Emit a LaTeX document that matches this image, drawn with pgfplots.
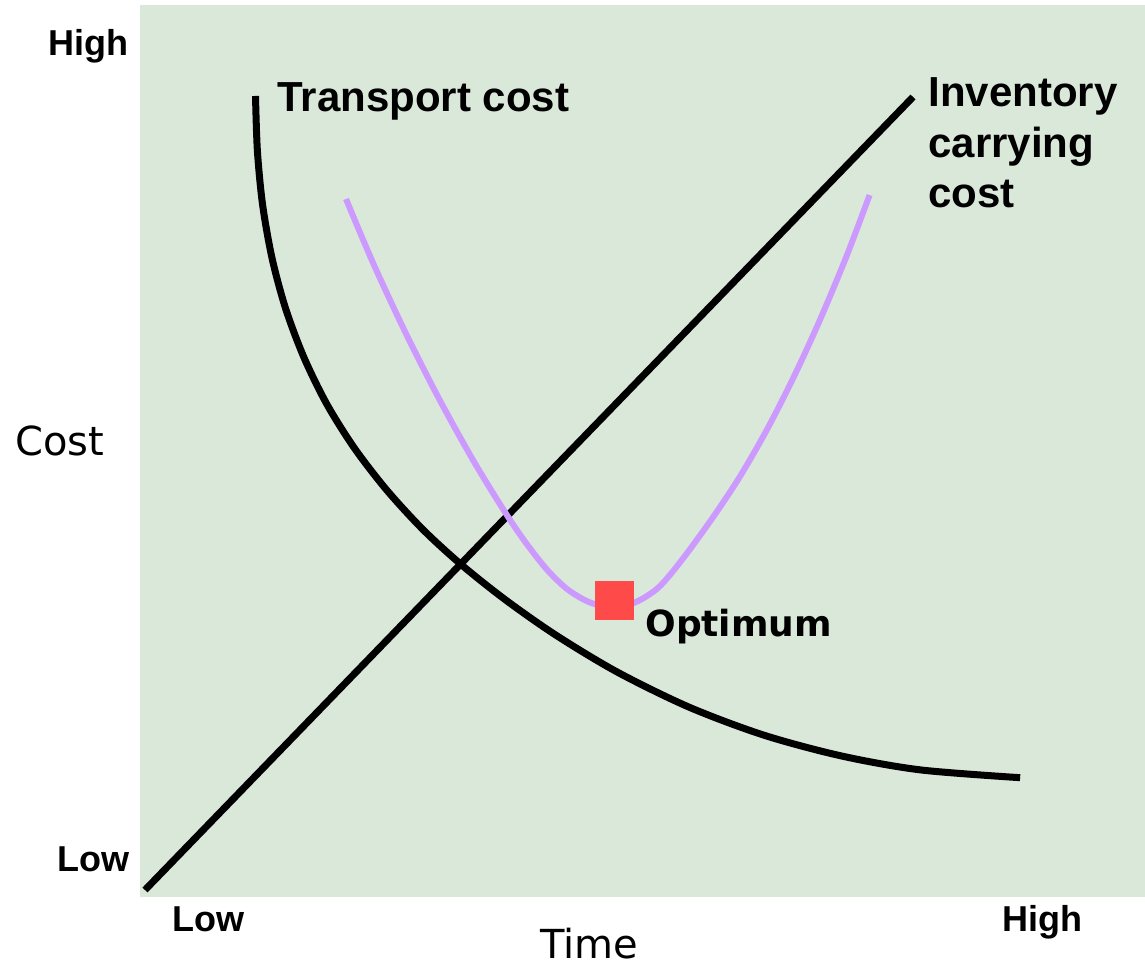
\documentclass[border=0pt]{standalone}
\usepackage{pgfplots}
\pgfplotsset{compat=1.18}
\usepackage{fontspec}
\setmainfont{Liberation Sans}
\newfontfamily\dv{DejaVu Sans}
\definecolor{bggreen}{RGB}{218,232,218}
\definecolor{lilac}{RGB}{204,153,255}
\definecolor{optred}{RGB}{255,74,74}
\begin{document}
\begin{tikzpicture}
\useasboundingbox (0,0) rectangle (572.5pt,483.5pt);
\begin{axis}[
  at={(70pt,35pt)}, anchor=south west,
  scale only axis, width=502.5pt, height=446pt,
  xmin=0, xmax=1005, ymin=0, ymax=892,
  axis line style={draw=none},
  xtick=\empty, ytick=\empty,
  axis background/.style={fill=bggreen},
  clip=false,
]
% Inventory carrying cost
\addplot[black, line width=3.5pt, no markers] coordinates {(5,7) (773,800)};
% Transport cost
\addplot[black, line width=3.5pt, no markers, smooth, line join=round] coordinates {
(115.5,801) (117.4,746) (122.6,692.2) (132,639) (145.5,588.8) (163.7,540.1)
(186.5,493.4) (214.1,449.3) (246.4,407.3) (282.9,367.5) (321.2,332.4)
(365,297.5) (415.8,261.9) (477.5,224.8) (549.4,189.7) (624.3,161.7)
(701.6,141) (780.4,127.1) (880.1,119.3)};
% Total cost
\addplot[lilac, line width=3pt, no markers, smooth, line join=round] coordinates {
(206,698) (233.7,632.6) (267.1,561) (299.8,496.8) (332.3,438.2) (359.3,393.8)
(381.4,360.4) (405.1,329.5) (427,308) (450,294.5) (473,290) (496,295) (519,310)
(543,338.5) (573.1,379.9) (599.6,419.9) (626.6,466.7) (653.4,519.3)
(679.7,576.5) (706.3,640.2) (729.6,701.9)};
% Optimum
\addplot[optred, only marks, mark=square*, mark size=9.5pt, mark options={fill=optred, draw=optred, line width=0pt}] coordinates {(474,296)};

\node[anchor=base east, inner sep=0pt, font=\fontsize{18}{20}\selectfont\bfseries] at (axis cs:-11,841) {High};
\node[anchor=base east, inner sep=0pt, font=\fontsize{18}{20}\selectfont\bfseries] at (axis cs:-10,25) {Low};
\node[anchor=base west, inner sep=0pt, font=\fontsize{18}{20}\selectfont\bfseries] at (axis cs:32,-35) {Low};
\node[anchor=base west, inner sep=0pt, font=\fontsize{18}{20}\selectfont\bfseries] at (axis cs:862,-35) {High};
\node[anchor=base west, inner sep=0pt, font=\dv\fontsize{20}{22}\selectfont] at (axis cs:-125,441) {Cost};
\node[anchor=base west, inner sep=0pt, font=\dv\fontsize{20}{22}\selectfont] at (axis cs:400,-62) {Time};
\node[anchor=base west, inner sep=0pt, font=\fontsize{21}{24}\selectfont\bfseries] at (axis cs:137,785) {Transport cost};
\node[anchor=base west, inner sep=0pt, font=\fontsize{21}{24}\selectfont\bfseries] at (axis cs:788,790) {Inventory};
\node[anchor=base west, inner sep=0pt, font=\fontsize{21}{24}\selectfont\bfseries] at (axis cs:788,739) {carrying};
\node[anchor=base west, inner sep=0pt, font=\fontsize{21}{24}\selectfont\bfseries] at (axis cs:788,689) {cost};
\node[anchor=base west, inner sep=0pt, font=\dv\fontsize{18}{20}\selectfont\bfseries] at (axis cs:505,260) {Optimum};
\end{axis}
\end{tikzpicture}
\end{document}
